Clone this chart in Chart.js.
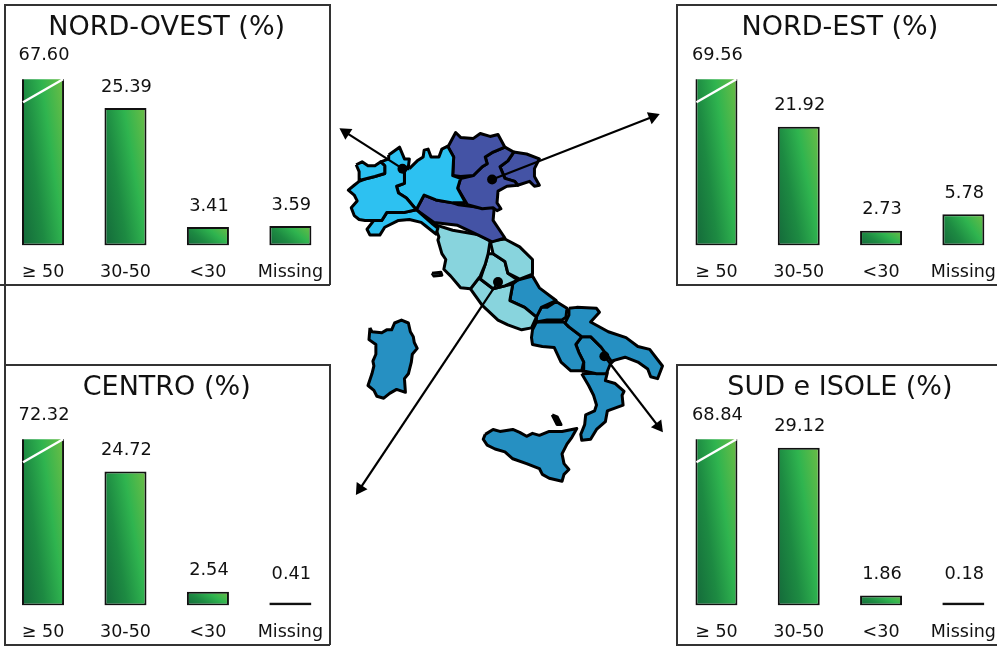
<!DOCTYPE html>
<html>
<head>
<meta charset="utf-8">
<script src="https://cdn.jsdelivr.net/npm/chart.js@4"></script>
<style>
    html, body { margin: 0; padding: 0; background: #fff; width: 997px; height: 646px; overflow: hidden; }
    canvas { position: absolute; }
    .rule { position: absolute; background: #333; }
</style>
</head>
<body>
<canvas id="map-chart" style="left:0;top:0"></canvas>
<div class="rule" style="left:4px;top:4px;width:326px;height:1.5px"></div>
<div class="rule" style="left:4px;top:4px;width:1.5px;height:360px"></div>
<div class="rule" style="left:0;top:284px;width:330px;height:1.5px"></div>
<div class="rule" style="left:329px;top:4px;width:1.5px;height:281px"></div>
<div class="rule" style="left:676px;top:4px;width:321px;height:1.5px"></div>
<div class="rule" style="left:676px;top:4px;width:1.5px;height:281px"></div>
<div class="rule" style="left:676px;top:284px;width:321px;height:1.5px"></div>
<div class="rule" style="left:4px;top:364px;width:326px;height:1.5px"></div>
<div class="rule" style="left:4px;top:364px;width:1.5px;height:281px"></div>
<div class="rule" style="left:329px;top:364px;width:1.5px;height:281px"></div>
<div class="rule" style="left:4px;top:644px;width:326px;height:1.5px"></div>
<div class="rule" style="left:676px;top:364px;width:321px;height:1.5px"></div>
<div class="rule" style="left:676px;top:364px;width:1.5px;height:281px"></div>
<div class="rule" style="left:676px;top:644px;width:321px;height:1.5px"></div>
<canvas id="chart-no" style="left:0;top:0"></canvas>
<canvas id="chart-ne" style="left:674px;top:0"></canvas>
<canvas id="chart-ce" style="left:0;top:360px"></canvas>
<canvas id="chart-su" style="left:674px;top:360px"></canvas>
<script>
const categories = ['≥ 50', '30-50', '<30', 'Missing'];
const nordOvest = [67.60, 25.39, 3.41, 3.59];
const nordEst = [69.56, 21.92, 2.73, 5.78];
const centro = [72.32, 24.72, 2.54, 0.41];
const sudIsole = [68.84, 29.12, 1.86, 0.18];
const yMax = 30.7;

// region outlines, in picture coordinates
const valleAosta = [[354,161],[360,158],[366,162],[373,162],[379,158],[383,162],[383,170],[373,173],[365,175],[357,177],[357,168]];
const piemonte = [[387,151],[398,143],[403,155],[408,155],[407,163],[403,165],[403,180],[395,183],[397,190],[405,195],[415,207],[402,210],[385,210],[380,218],[372,218],[363,218],[357,217],[352,213],[349,205],[355,198],[352,192],[346,187],[352,182],[357,178],[365,175],[373,173],[383,170],[383,162],[379,158],[387,155]];
const lombardia = [[408,165],[416,157],[422,153],[423,146],[427,145],[430,153],[438,153],[441,145],[447,142],[453,153],[452,172],[460,175],[457,185],[465,200],[452,200],[435,197],[423,192],[415,207],[405,195],[397,190],[395,183],[403,180],[403,165]];
const liguria = [[415,207],[432,222],[437,226],[435,232],[425,224],[420,220],[408,217],[397,218],[383,225],[378,233],[368,233],[365,227],[372,218],[380,218],[385,210],[402,210]];
const trentino = [[447,143],[455,128],[460,133],[473,134],[480,129],[490,132],[498,130],[505,143],[493,148],[485,153],[487,160],[482,163],[473,172],[460,173],[452,172],[453,153]];
const veneto = [[505,143],[514,148],[508,157],[500,163],[505,175],[515,178],[518,182],[507,183],[498,188],[497,200],[501,206],[497,208],[493,205],[482,206],[467,202],[457,185],[460,175],[473,172],[482,163],[487,160],[485,153],[493,148]];
const friuli = [[514,148],[527,150],[540,155],[535,165],[535,173],[540,182],[535,183],[530,178],[518,182],[515,178],[505,175],[500,163],[508,157]];
const emilia = [[423,192],[435,197],[452,200],[458,202],[482,205],[492,203],[494,207],[493,218],[505,236],[492,240],[478,233],[457,223],[433,220],[415,207]];
const toscana = [[433,222],[452,228],[480,233],[490,239],[488,252],[485,263],[480,275],[470,288],[460,287],[450,275],[443,268],[445,258],[441,252],[437,238],[438,235]];
const marche = [[490,239],[505,237],[520,245],[533,258],[533,273],[520,278],[508,272],[505,260],[493,252]];
const umbria = [[493,252],[505,260],[508,272],[518,279],[505,285],[493,288],[480,278],[485,263],[488,252]];
const lazio = [[480,275],[480,278],[493,288],[505,285],[513,283],[510,300],[525,307],[537,317],[532,328],[522,330],[508,325],[498,320],[482,305],[470,288]];
const abruzzo = [[518,279],[533,275],[540,287],[557,300],[542,307],[537,317],[525,307],[510,300],[513,283]];
const molise = [[542,307],[548,307],[557,301],[568,308],[567,317],[563,320],[548,320],[537,322],[537,316]];
const puglia = [[570,308],[578,307],[598,308],[601,312],[592,322],[610,332],[628,338],[640,347],[652,350],[665,367],[660,380],[653,378],[650,370],[640,363],[627,358],[613,362],[602,347],[592,337],[583,337],[570,327],[566,323],[570,315]];
const campania = [[537,322],[550,322],[565,322],[570,327],[583,337],[577,345],[580,353],[585,363],[583,372],[572,372],[562,363],[555,348],[543,347],[533,345],[532,338],[533,330]];
const basilicata = [[583,337],[592,337],[602,347],[610,348],[617,360],[612,365],[608,375],[598,375],[585,372],[585,363],[580,353],[577,345]];
const calabria = [[583,375],[590,387],[595,397],[598,407],[596,413],[587,417],[586,427],[582,437],[583,443],[592,442],[598,432],[607,424],[609,413],[625,407],[624,397],[626,393],[617,385],[607,382],[609,374]];
const sicilia = [[485,437],[493,432],[500,434],[513,432],[520,435],[527,439],[533,436],[540,438],[550,434],[563,434],[578,431],[573,440],[568,447],[563,457],[565,467],[570,473],[565,478],[563,485],[550,482],[543,478],[540,472],[527,467],[513,462],[505,455],[495,452],[487,448],[483,442]];
const sardegna = [[368,328],[370,332],[380,333],[385,330],[390,330],[393,323],[400,320],[407,323],[409,332],[412,337],[413,343],[416,349],[411,355],[410,363],[407,375],[403,380],[404,394],[395,391],[388,395],[382,400],[375,398],[372,392],[366,387],[370,375],[372,367],[371,362],[374,355],[374,345],[367,340]];
const elba = [[431,272],[440,271],[441,274],[433,275]];
const eolie = [[553,417],[558,419],[562,427],[558,427]];

// arrows: start dot, then tip
const arrowNO = [[401,165],[339,125]];
const arrowNE = [[492,176],[660,110]];
const arrowCE = [[498,281],[355,497]];
const arrowSU = [[606,357],[664,433]];

const NORD_OVEST_BLUE = '#2dc1f1';
const NORD_EST_BLUE = '#4453a5';
const CENTRO_BLUE = '#88d4dd';
const SUD_BLUE = '#2690c2';

function regionDataset(points, color) {
    const closed = points.concat([points[0]]);
    return {
        data: closed.map(p => ({ x: p[0], y: p[1] })),
        showLine: true,
        fill: 'shape',
        backgroundColor: color,
        borderColor: '#000',
        borderWidth: 3,
        borderJoinStyle: 'round',
        pointRadius: 0,
        tension: 0,
        order: 2
    };
}

function arrowDataset(arrow) {
    const [a, b] = arrow;
    const dx = b[0] - a[0], dy = b[1] - a[1];
    const len = Math.sqrt(dx * dx + dy * dy);
    const r = 7.5;
    const head = { x: b[0] - dx / len * r * 0.7, y: b[1] - dy / len * r * 0.7 };
    const angle = Math.atan2(dx, -dy) * 180 / Math.PI;
    return {
        data: [{ x: a[0], y: a[1] }, head],
        showLine: true,
        fill: false,
        borderColor: '#000',
        borderWidth: 2.2,
        pointStyle: ['circle', 'triangle'],
        pointRadius: [5, r],
        pointRotation: [0, angle],
        pointBackgroundColor: '#000',
        pointBorderColor: '#000',
        pointBorderWidth: 0,
        order: 1
    };
}

function initMap() {
    const groups = [
        [[valleAosta, piemonte, lombardia, liguria], NORD_OVEST_BLUE],
        [[trentino, veneto, friuli, emilia], NORD_EST_BLUE],
        [[toscana, marche, umbria, lazio, elba], CENTRO_BLUE],
        [[abruzzo, molise, puglia, campania, basilicata, calabria, sicilia, sardegna], SUD_BLUE],
        [[eolie], '#000']
    ];
    const datasets = [arrowNO, arrowNE, arrowCE, arrowSU].map(arrowDataset);
    groups.forEach(([regions, color]) => regions.forEach(r => datasets.push(regionDataset(r, color))));

    const canvas = document.getElementById('map-chart');
    canvas.width = 997;
    canvas.height = 646;
    new Chart(canvas, {
        type: 'scatter',
        data: { datasets },
        options: {
            responsive: false,
            animation: false,
            plugins: { legend: { display: false }, tooltip: { enabled: false } },
            scales: {
                x: { type: 'linear', min: 0, max: 997, display: false },
                y: { type: 'linear', min: 0, max: 646, reverse: true, display: false }
            }
        }
    });
}

// diagonal fill: dark at the bottom left corner, light at the top right one
function barGradient(context) {
    const chart = context.chart;
    const area = chart.chartArea;
    if (!area || context.type !== 'data') return '#2fb34f';
    const scales = chart.scales;
    const w = scales.x.getPixelForValue(1) - scales.x.getPixelForValue(0);
    const barW = w * 0.51;
    const cx = scales.x.getPixelForValue(context.dataIndex);
    const top = Math.max(scales.y.getPixelForValue(context.parsed.y), area.top);
    const h = Math.max(area.bottom - top, 1);
    const left = cx - barW / 2;
    // width counts for more than height, so the bands stand nearly upright
    const vx = 0.65 / barW, vy = 0.35 / h;
    const n = vx * vx + vy * vy;
    const g = chart.ctx.createLinearGradient(left, area.bottom, left + vx / n, area.bottom - vy / n);
    g.addColorStop(0, '#14693a');
    g.addColorStop(0.35, '#1d8a42');
    g.addColorStop(0.65, '#2fb44f');
    g.addColorStop(1, '#6ebd45');
    return g;
}

const barDecor = {
    id: 'barDecor',
    afterDatasetsDraw(chart) {
        const ctx = chart.ctx;
        const area = chart.chartArea;
        const bars = chart.getDatasetMeta(0).data;
        const values = chart.data.datasets[0].data;
        ctx.save();
        // slash on the bar that runs past the axis
        bars.forEach((bar, i) => {
            if (values[i] <= yMax) return;
            ctx.strokeStyle = '#fff';
            ctx.lineWidth = 2.4;
            ctx.beginPath();
            ctx.moveTo(bar.x - bar.width / 2 + 1, area.top + 23);
            ctx.lineTo(bar.x + bar.width / 2 - 1, area.top);
            ctx.stroke();
        });
        ctx.fillStyle = '#111';
        ctx.font = '17.8px "DejaVu Sans"';
        ctx.textAlign = 'center';
        ctx.textBaseline = 'middle';
        bars.forEach((bar, i) => {
            const top = Math.max(bar.y, area.top);
            const gap = values[i] > yMax ? 24 : 21;
            ctx.fillText(values[i].toFixed(2), bar.x + 1, Math.min(top - gap, area.bottom - 31));
        });
        ctx.restore();
    }
};

function initPanel(id, title, values, padLeft, padRight) {
    const canvas = document.getElementById(id);
    canvas.width = 332;
    canvas.height = 286;
    new Chart(canvas, {
        type: 'bar',
        data: {
            labels: categories,
            datasets: [{
                data: values,
                clip: 0,
                backgroundColor: barGradient,
                borderColor: '#111',
                borderWidth: 2,
                borderSkipped: false,
                minBarLength: 3,
                categoryPercentage: 1,
                barPercentage: 0.51
            }]
        },
        options: {
            responsive: false,
            animation: false,
            layout: { autoPadding: false, padding: { left: padLeft, right: padRight, top: 0, bottom: 2.5 } },
            plugins: {
                legend: { display: false },
                tooltip: { enabled: false },
                title: {
                    display: true,
                    text: title,
                    color: '#111',
                    font: { family: '"DejaVu Sans"', size: 27, weight: 'normal', lineHeight: 1.2 },
                    padding: { top: 11.8, bottom: 35 }
                }
            },
            scales: {
                x: {
                    // grid stays hidden, the tick length only moves the labels down
                    grid: { display: false, drawTicks: true, tickLength: 16 },
                    border: { display: false },
                    ticks: {
                        color: '#111',
                        padding: 0,
                        autoSkip: false,
                        maxRotation: 0,
                        font: { family: '"DejaVu Sans"', size: 17.5, lineHeight: 1.2 }
                    },
                    afterFit: s => { s.height = 38; }
                },
                y: { min: 0, max: yMax, display: false }
            }
        },
        plugins: [barDecor]
    });
}

document.addEventListener('DOMContentLoaded', () => {
    initMap();
    initPanel('chart-no', 'NORD-OVEST (%)', nordOvest, 1.8, 0.4);
    initPanel('chart-ne', 'NORD-EST (%)', nordEst, 1.3, 1.5);
    initPanel('chart-ce', 'CENTRO (%)', centro, 1.8, 0.4);
    initPanel('chart-su', 'SUD e ISOLE (%)', sudIsole, 1.3, 1.5);
});
</script>
</body>
</html>
